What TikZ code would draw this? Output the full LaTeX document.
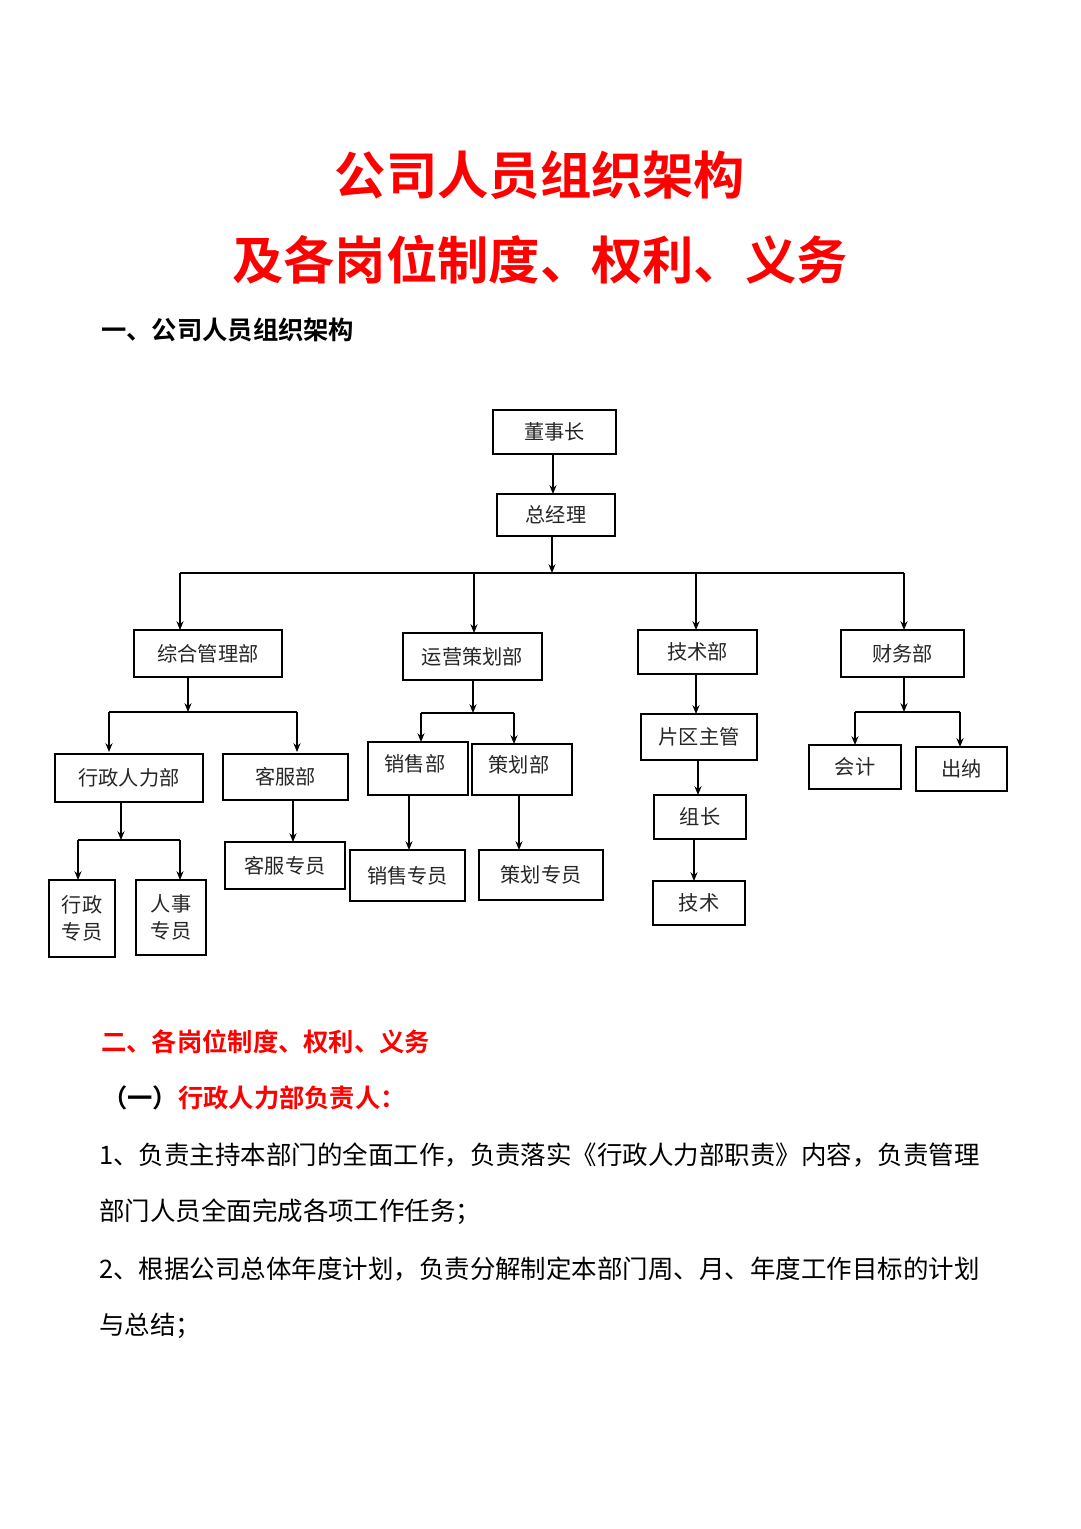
\documentclass[tikz,border=0pt]{standalone}
\usepackage{fontspec}
\setmainfont{Noto Sans CJK SC}
\newfontfamily\cjkb{Noto Sans CJK SC Bold}
\usetikzlibrary{arrows.meta}
\begin{document}
\begin{tikzpicture}[x=0.02cm,y=-0.02cm,
  bx/.style={draw,line width=0.9pt,inner sep=0pt},
  ar/.style={-{Stealth[length=5pt,width=4pt]},line width=0.8pt},
  ln/.style={line width=0.8pt},
  tx/.style={font=\fontsize{11.5}{13}\selectfont,text=black!85}]
\useasboundingbox (0,0) rectangle (1080,1529);
\fill[white] (0,0) rectangle (1080,1529);
\node[text=red,font=\cjkb\fontsize{29.2}{32}\selectfont] (t1) at (540,175) {公司人员组织架构};
\node[text=red,font=\cjkb\fontsize{29.2}{32}\selectfont] (t2) at (540,260) {及各岗位制度、权利、义务};
\node[anchor=west,font=\cjkb\fontsize{14.4}{16}\selectfont] (h1) at (95,330) {一、公司人员组织架构};
% boxes
\newcommand{\bxx}[6]{\draw[bx] (#2,#3) rectangle (#4,#5); \node[tx,align=center] (#1) at ({(#2+#4)/2},{(#3+#5)/2}) {#6};}
\bxx{dsz}{493}{410}{616}{454}{董事长}
\bxx{zjl}{497}{494}{615}{536}{总经理}
\bxx{zh}{134}{630}{282}{677}{综合管理部}
\bxx{yy}{403}{633}{542}{680}{运营策划部}
\bxx{js}{638}{630}{757}{674}{技术部}
\bxx{cw}{841}{630}{964}{677}{财务部}
\bxx{xz}{55}{754}{203}{802}{行政人力部}
\bxx{kf}{223}{754}{348}{800}{客服部}
\bxx{xzzy}{49}{880}{115}{957}{行政\\[2pt]专员}
\bxx{rszy}{136}{880}{206}{955}{人事\\[2pt]专员}
\bxx{kfzy}{225}{842}{345}{889}{客服专员}
\draw[bx] (368,742) rectangle (468,795); \node[tx] (xs) at (415,764) {销售部};
\draw[bx] (472,744) rectangle (572,795); \node[tx] (ch) at (519,765) {策划部};
\bxx{xszy}{350}{850}{465}{901}{销售专员}
\bxx{chzy}{479}{850}{603}{900}{策划专员}
\bxx{pq}{641}{714}{757}{760}{片区主管}
\bxx{zz}{654}{795}{746}{839}{组长}
\bxx{jsy}{653}{881}{745}{925}{技术}
\bxx{kj}{809}{745}{901}{789}{会计}
\bxx{cn}{916}{747}{1007}{791}{出纳}
% connectors
\coordinate (a1) at (553,454); \coordinate (a2) at (553,494);
\draw[ar] (a1)--(a2);
\coordinate (b1) at (552,536); \coordinate (b2) at (552,573);
\draw[ar] (b1)--(b2);
\coordinate (L) at (180,573); \coordinate (R) at (904,573);
\draw[ln] (L)--(R);
\draw[ar] (180,573)--(180,630);
\draw[ar] (474,573)--(474,633);
\draw[ar] (696,573)--(696,630);
\draw[ar] (904,573)--(904,630);
% 综合
\draw[ar] (188,677)--(188,712);
\draw[ln] (109,712)--(297,712);
\draw[ar] (109,712)--(109,752);
\draw[ar] (297,712)--(297,752);
\draw[ar] (121,802)--(121,840);
\draw[ln] (78,840)--(180,840);
\draw[ar] (78,840)--(78,880);
\draw[ar] (180,840)--(180,880);
\draw[ar] (293,800)--(293,842);
% 运营
\draw[ar] (473,680)--(473,713);
\draw[ln] (421,713)--(514,713);
\draw[ar] (421,713)--(421,742);
\draw[ar] (514,713)--(514,744);
\draw[ar] (409,795)--(409,850);
\draw[ar] (519,795)--(519,850);
% 技术
\draw[ar] (696,674)--(696,714);
\draw[ar] (698,760)--(698,795);
\draw[ar] (694,839)--(694,881);
% 财务
\draw[ar] (904,677)--(904,712);
\draw[ln] (855,712)--(960,712);
\draw[ar] (855,712)--(855,745);
\draw[ar] (960,712)--(960,747);
% text section
\node[anchor=west,text=red,font=\cjkb\fontsize{14.4}{16}\selectfont] (h2) at (95,1042) {二、各岗位制度、权利、义务};
\node[anchor=west,font=\cjkb\fontsize{14.4}{16}\selectfont] (h3) at (96,1098) {（一）\textcolor{red}{行政人力部负责人：}};
\tikzset{bd/.style={anchor=west,font=\fontsize{14.5}{16}\selectfont}}
\node[bd] (p1) at (93,1155) {1、负责主持本部门的全面工作，负责落实《行政人力部职责》内容，负责管理};
\node[bd] (p2) at (93,1212) {部门人员全面完成各项工作任务；};
\node[bd] (p3) at (93,1269) {2、根据公司总体年度计划，负责分解制定本部门周、月、年度工作目标的计划};
\node[bd] (p4) at (93,1326) {与总结；};
\end{tikzpicture}
\end{document}
